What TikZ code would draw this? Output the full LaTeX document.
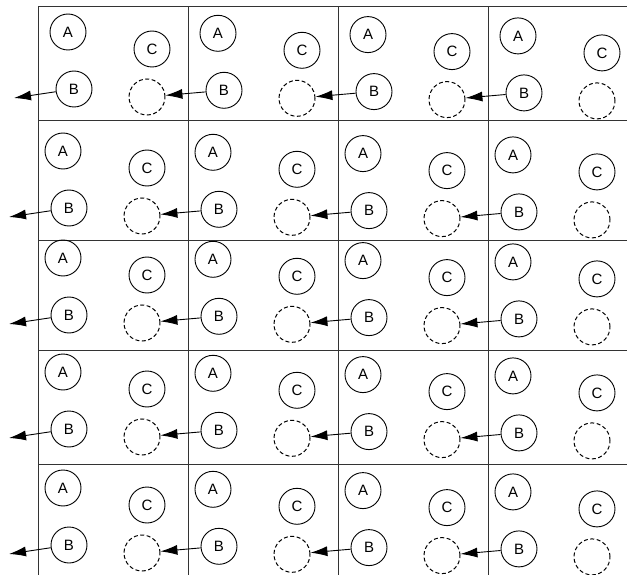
\documentclass[tikz,border=0pt]{standalone}
\usepackage{fontspec}
\setmainfont{Liberation Sans}
\usetikzlibrary{arrows.meta, calc}

\begin{document}
\begin{tikzpicture}[
    x=1pt, y=-1pt,
    ball/.style  = {draw, circle, minimum size=36pt, inner sep=0pt,
                    line width=0.9pt, font=\fontsize{15}{15}\selectfont},
    ghost/.style = {ball, line width=1pt, dash pattern=on 4pt off 2.5pt},
    grid/.style  = {draw=black!80, line width=1pt},
    arr/.style   = {-{Latex[length=17pt, width=10pt]}, line width=0.9pt},
]
    \useasboundingbox (0,0) rectangle (627,575);

    % ── Grille ──
    \foreach \gy in {7, 121, 240, 350, 464}
        \draw[grid] (38,\gy) -- (627,\gy);
    \foreach \gx in {38, 188, 338, 488}
        \draw[grid] (\gx,7) -- (\gx,575);

    % ── Cellules : A, C, B et le cercle pointillé ──
    \foreach \r/\ay/\dx in {1/32/5, 2/151/0, 3/258/0, 4/372/0, 5/488/0} {
        \foreach \c in {1,...,4} {
            \pgfmathsetmacro{\xo}{38+150*(\c-1)+\dx}
            \pgfmathsetmacro{\yo}{\ay+1.3*(\c-1)}
            \node[ball]  (A-\r-\c) at (\xo+25,  \yo)    {A};
            \node[ball]  (C-\r-\c) at (\xo+109, \yo+17) {C};
            \node[ball]  (B-\r-\c) at (\xo+31,  \yo+57) {B};
            \node[ghost] (D-\r-\c) at (\xo+104, \yo+65) {};
        }
    }

    % ── Flèches vers la cellule de gauche ──
    \foreach \r in {1,...,5} {
        \coordinate (out-\r) at ($(B-\r-1)+(-60,9)$);
        \draw[arr] (B-\r-1) -- (out-\r);
        \foreach \c in {2,...,4} {
            \pgfmathtruncatemacro{\p}{\c-1}
            \draw[arr] (B-\r-\c) -- (D-\r-\p);
        }
    }

\end{tikzpicture}
\end{document}
